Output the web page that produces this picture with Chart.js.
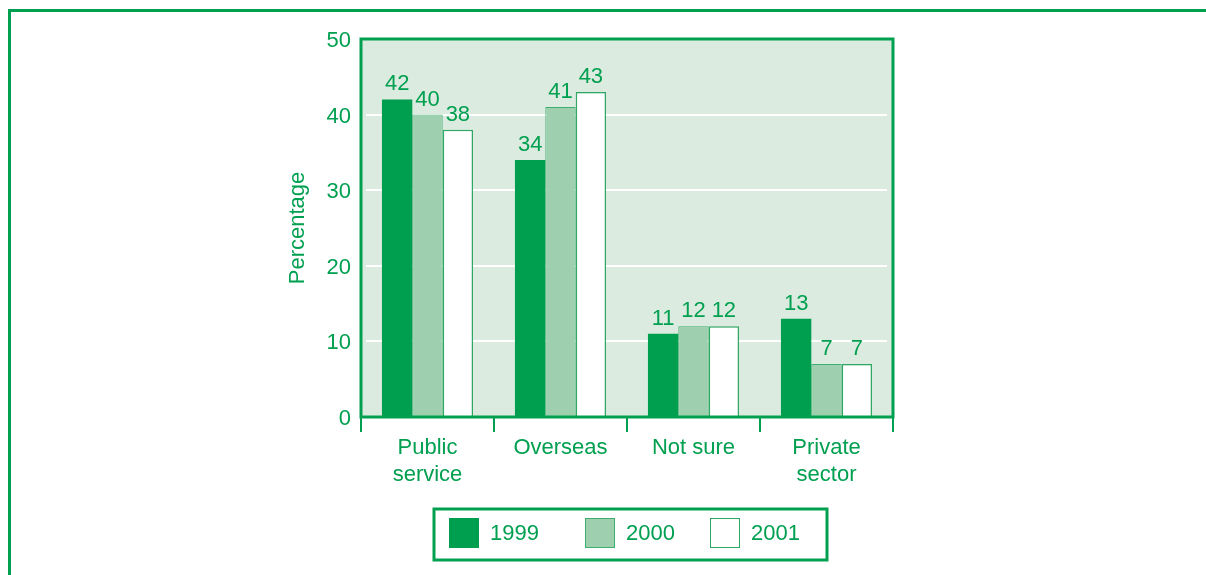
<!DOCTYPE html>
<html>
<head>
<meta charset="utf-8">
<script src="https://cdn.jsdelivr.net/npm/chart.js@4"></script>
<style>
  html, body { margin: 0; padding: 0; background: #ffffff; }
  #wrap { width: 1206px; height: 575px; position: relative; }
</style>
</head>
<body>
<div id="wrap"><canvas id="myChart" width="1206" height="575"></canvas></div>
<script>
// data
const categories = [['Public', 'service'], 'Overseas', 'Not sure', ['Private', 'sector']];
const years = ['1999', '2000', '2001'];
const values1999 = [42, 34, 11, 13];
const values2000 = [40, 41, 12, 7];
const values2001 = [38, 43, 12, 7];
const yTicks = [0, 10, 20, 30, 40, 50];

const green = '#00a050';
const font = "'Liberation Sans', Arial, sans-serif";
const fsize = 22;

// frame, plot background and plot border
const framePlugin = {
  id: 'frame',
  beforeDraw(chart) {
    const ctx = chart.ctx;
    const a = chart.chartArea;
    ctx.save();
    ctx.fillStyle = '#dcebdf';
    ctx.fillRect(a.left, a.top, a.right - a.left, a.bottom - a.top);
    ctx.strokeStyle = green;
    ctx.lineWidth = 3;
    ctx.beginPath();
    ctx.moveTo(9.5, 575);
    ctx.lineTo(9.5, 10.5);
    ctx.lineTo(1206, 10.5);
    ctx.stroke();
    ctx.restore();
  },
  beforeDatasetsDraw(chart) {
    const ctx = chart.ctx;
    const a = chart.chartArea;
    const y = chart.scales.y;
    ctx.save();
    ctx.strokeStyle = '#ffffff';
    ctx.lineWidth = 2;
    yTicks.slice(1, -1).forEach(v => {
      const py = Math.round(y.getPixelForValue(v));
      ctx.beginPath();
      ctx.moveTo(a.left + 5, py);
      ctx.lineTo(a.right - 6, py);
      ctx.stroke();
    });
    ctx.restore();
  },
  afterDatasetsDraw(chart) {
    const ctx = chart.ctx;
    const a = chart.chartArea;
    ctx.save();
    // value labels
    ctx.fillStyle = green;
    ctx.font = fsize + 'px ' + font;
    ctx.textAlign = 'center';
    ctx.textBaseline = 'alphabetic';
    chart.data.datasets.forEach((ds, i) => {
      chart.getDatasetMeta(i).data.forEach((bar, j) => {
        ctx.fillText(ds.data[j], bar.x, bar.y - 9);
      });
    });
    // plot border
    ctx.strokeStyle = green;
    ctx.lineWidth = 3;
    ctx.strokeRect(a.left, a.top, a.right - a.left, a.bottom - a.top);
    ctx.restore();
  },
  afterDraw(chart) {
    // boxed legend
    const ctx = chart.ctx;
    const ds = chart.data.datasets;
    const boxX = 434, boxY = 509, boxW = 393, boxH = 51;
    const sq = [449, 585, 710];
    ctx.save();
    ctx.strokeStyle = green;
    ctx.lineWidth = 3;
    ctx.strokeRect(boxX, boxY, boxW, boxH);
    ctx.font = fsize + 'px ' + font;
    ctx.textBaseline = 'middle';
    ctx.textAlign = 'left';
    ds.forEach((d, i) => {
      ctx.fillStyle = d.backgroundColor;
      ctx.fillRect(sq[i], 518, 30, 30);
      ctx.strokeStyle = d.borderColor;
      ctx.lineWidth = 1;
      ctx.strokeRect(sq[i] + 0.5, 518.5, 29, 29);
      ctx.fillStyle = green;
      ctx.fillText(d.label, sq[i] + 41, 534);
    });
    ctx.restore();
  }
};

const ctx = document.getElementById('myChart').getContext('2d');
new Chart(ctx, {
  type: 'bar',
  data: {
    labels: categories,
    datasets: [
      { label: years[0], data: values1999, backgroundColor: '#009e4f', borderColor: '#009e4f', borderWidth: 0 },
      { label: years[1], data: values2000, backgroundColor: '#9ecfae', borderColor: '#3fae70', borderWidth: 1 },
      { label: years[2], data: values2001, backgroundColor: '#ffffff', borderColor: '#2fa865', borderWidth: 1.5 }
    ]
  },
  plugins: [framePlugin],
  options: {
    responsive: false,
    animation: false,
    layout: { padding: { left: 280, top: 39, right: 313, bottom: 88 } },
    categoryPercentage: 0.685,
    barPercentage: 1.0,
    plugins: {
      legend: { display: false },
      tooltip: { enabled: false }
    },
    scales: {
      x: {
        offset: true,
        border: { display: false },
        grid: { offset: true, drawOnChartArea: false, drawTicks: true, tickLength: 15, color: green, lineWidth: 2 },
        ticks: { color: green, font: { family: font, size: fsize, lineHeight: 27 / 22 }, padding: 2, maxRotation: 0 },
        afterFit: s => { s.height = 70; }
      },
      y: {
        min: 0,
        max: 50,
        border: { display: false },
        grid: { display: false, drawTicks: false },
        afterBuildTicks: s => { s.ticks = yTicks.map(v => ({ value: v })); },
        ticks: { color: green, font: { family: font, size: fsize }, padding: 10, labelOffset: 2 },
        title: { display: true, text: 'Percentage', color: green, font: { family: font, size: fsize }, padding: { top: 5, bottom: 1 } },
        afterFit: s => { s.width = 81; }
      }
    }
  }
});
</script>
</body>
</html>
